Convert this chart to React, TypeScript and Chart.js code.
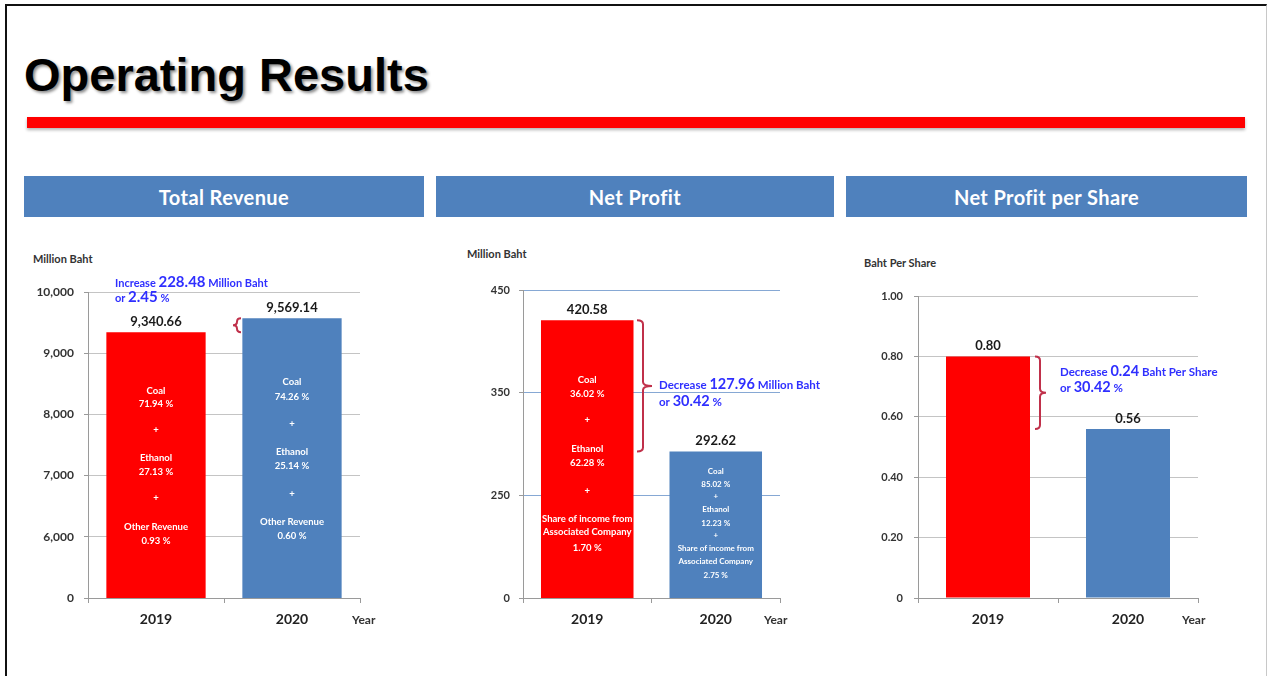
import React, { useEffect, useRef } from "react";
import { Chart, registerables } from "chart.js";

Chart.register(...registerables);

// ---------- DATA ----------
const years = ["2019", "2020"];

const revenueValues = [9340.66, 9569.14];
const revenueValueLabels = ["9,340.66", "9,569.14"];
// broken axis: the lowest tick is shown as "0"
const revenueTickValues = [5000, 6000, 7000, 8000, 9000, 10000];
const revenueTickLabels = ["0", "6,000", "7,000", "8,000", "9,000", "10,000"];
const revenueMix2019 = ["Coal", "71.94 %", "+", "Ethanol", "27.13 %", "+", "Other Revenue", "0.93 %"];
const revenueMix2020 = ["Coal", "74.26 %", "+", "Ethanol", "25.14 %", "+", "Other Revenue", "0.60 %"];
const revenueNote = [
  [["Increase ", 0], ["228.48", 1], [" Million Baht", 0]],
  [["or ", 0], ["2.45", 1], [" %", 0]],
];

const profitValues = [420.58, 292.62];
const profitValueLabels = ["420.58", "292.62"];
const profitTickValues = [150, 250, 350, 450];
const profitTickLabels = ["0", "250", "350", "450"];
const profitMix2019 = ["Coal", "36.02 %", "+", "Ethanol", "62.28 %", "+", "Share of income from", "Associated Company", "1.70 %"];
const profitMix2020 = ["Coal", "85.02 %", "+", "Ethanol", "12.23 %", "+", "Share of income from", "Associated Company", "2.75 %"];
const profitNote = [
  [["Decrease ", 0], ["127.96", 1], [" Million Baht", 0]],
  [["or ", 0], ["30.42", 1], [" %", 0]],
];

const epsValues = [0.8, 0.56];
const epsValueLabels = ["0.80", "0.56"];
const epsTickValues = [0, 0.2, 0.4, 0.6, 0.8, 1.0];
const epsTickLabels = ["0", "0.20", "0.40", "0.60", "0.80", "1.00"];
const epsNote = [
  [["Decrease ", 0], ["0.24", 1], [" Baht Per Share", 0]],
  [["or ", 0], ["30.42", 1], [" %", 0]],
];

const barColors = ["#ff0000", "#4f81bd"];
const FONT = "Lato, 'Open Sans', sans-serif";

// ---------- PLUGIN ----------
function drawBrace(ctx: CanvasRenderingContext2D, x: number, y1: number, y2: number, dir: number, serif: number, tip: number) {
  const mid = (y1 + y2) / 2;
  const r = Math.min(4, (y2 - y1) / 4);
  ctx.beginPath();
  ctx.moveTo(x - dir * serif, y1);
  ctx.quadraticCurveTo(x, y1, x, y1 + r);
  ctx.lineTo(x, mid - r);
  ctx.quadraticCurveTo(x, mid, x + dir * tip, mid);
  ctx.moveTo(x + dir * tip, mid);
  ctx.quadraticCurveTo(x, mid, x, mid + r);
  ctx.lineTo(x, y2 - r);
  ctx.quadraticCurveTo(x, y2, x - dir * serif, y2);
  ctx.stroke();
}

const slidePlugin = {
  id: "slide",
  afterDatasetsDraw(chart: any, _args: any, opts: any) {
    const ctx: CanvasRenderingContext2D = chart.ctx;
    const meta = chart.getDatasetMeta(0);
    const yScale = chart.scales.y;
    const data = chart.data.datasets[0].data as number[];
    const area = chart.chartArea;
    ctx.save();
    meta.data.forEach((bar: any, i: number) => {
      const p = bar.getProps(["x", "y"], true);
      ctx.font = opts.valueFont;
      ctx.fillStyle = "#1a1a1a";
      ctx.textAlign = "center";
      ctx.textBaseline = "bottom";
      ctx.fillText(opts.valueLabels[i], p.x, p.y - 4);
      const inner = opts.inner && opts.inner[i];
      if (inner) {
        ctx.font = inner.font;
        ctx.fillStyle = "#ffffff";
        ctx.textBaseline = "middle";
        inner.lines.forEach((l: string, j: number) => ctx.fillText(l, p.x, inner.ys[j]));
      }
    });
    if (opts.brace) {
      const yTop = yScale.getPixelForValue(Math.max(...data));
      const yBot = yScale.getPixelForValue(Math.min(...data));
      ctx.strokeStyle = "#c0304a";
      ctx.lineWidth = 2;
      drawBrace(ctx, opts.brace.x, yTop, yBot, opts.brace.dir, opts.brace.serif, opts.brace.tip);
    }
    if (opts.note) {
      ctx.fillStyle = "#2f2fff";
      ctx.textAlign = "left";
      ctx.textBaseline = "alphabetic";
      opts.note.lines.forEach((segs: any[], li: number) => {
        let x = opts.note.x;
        segs.forEach(([t, big]: [string, number]) => {
          ctx.font = big ? opts.note.bigFont : opts.note.smallFont;
          ctx.fillText(t, x, opts.note.ys[li]);
          x += ctx.measureText(t).width;
        });
      });
    }
    ctx.font = `bold 12px ${FONT}`;
    ctx.fillStyle = "#333333";
    ctx.textAlign = "left";
    ctx.textBaseline = "middle";
    ctx.fillText("Year", area.right + opts.yearDx, 380);
    ctx.restore();
  },
};

// ---------- CHART CONFIG ----------
function makeConfig(p: any) {
  return {
    type: "bar",
    data: {
      labels: years,
      datasets: [
        {
          data: p.values,
          backgroundColor: barColors,
          borderWidth: 0,
          barPercentage: p.barPct,
          categoryPercentage: 1,
        },
      ],
    },
    options: {
      responsive: false,
      animation: false,
      events: [],
      layout: { padding: { top: p.top, right: p.right, left: 0, bottom: 0 } },
      plugins: {
        legend: { display: false },
        tooltip: { enabled: false },
        title: { display: false },
        slide: p.slide,
      },
      scales: {
        x: {
          offset: true,
          afterFit: (s: any) => {
            s.height = 42;
          },
          grid: {
            offset: true,
            drawOnChartArea: false,
            drawTicks: true,
            tickLength: 5,
            color: "#9a9a9a",
          },
          border: { color: "#9a9a9a", width: 1 },
          ticks: {
            padding: 8,
            color: "#222222",
            font: { family: FONT, size: 14, weight: "bold" },
          },
        },
        y: {
          min: p.min,
          max: p.max,
          afterFit: (s: any) => {
            s.width = p.axisWidth;
          },
          afterBuildTicks: (s: any) => {
            s.ticks = p.tickValues.map((v: number) => ({ value: v }));
          },
          grid: {
            color: p.gridColor,
            tickLength: 4,
            drawTicks: true,
            tickColor: "#9a9a9a",
          },
          border: { color: "#9a9a9a", width: 1 },
          ticks: {
            padding: p.tickPad,
            color: "#333333",
            font: { family: FONT, size: p.tickSize, weight: "bold" },
            callback: (_v: any, i: number) => p.tickLabels[i],
          },
        },
      },
    },
    plugins: [slidePlugin],
  };
}

function SlideChart({ left, top, params }: { left: number; top: number; params: any }) {
  const ref = useRef<HTMLCanvasElement | null>(null);
  useEffect(() => {
    if (!ref.current) return;
    const chart = new Chart(ref.current, makeConfig(params) as any);
    return () => chart.destroy();
  }, []);
  return (
    <div style={{ position: "absolute", left, top, width: 400, height: 400 }}>
      <canvas ref={ref} width={400} height={400} style={{ display: "block" }} />
    </div>
  );
}

const innerFont = `bold 9.5px ${FONT}`;
const innerSmall = `bold 8px ${FONT}`;

const revenueParams = {
  values: revenueValues,
  min: 5000,
  max: 10000,
  tickValues: revenueTickValues,
  tickLabels: revenueTickLabels,
  barPct: 0.73,
  top: 52,
  right: 60,
  axisWidth: 68,
  tickPad: 10,
  tickSize: 12,
  gridColor: "#c4c4c4",
  slide: {
    valueLabels: revenueValueLabels,
    valueFont: `bold 13px ${FONT}`,
    inner: [
      { lines: revenueMix2019, ys: [151, 164, 190, 218, 232, 258, 287, 301], font: innerFont },
      { lines: revenueMix2020, ys: [142, 157, 184, 212, 226, 254, 282, 296], font: innerFont },
    ],
    brace: { x: 217, dir: -1, serif: 4, tip: 4 },
    note: { x: 95, ys: [47, 62], lines: revenueNote, smallFont: `bold 11px ${FONT}`, bigFont: `bold 15px ${FONT}` },
    yearDx: -8,
  },
};

const profitParams = {
  values: profitValues,
  min: 150,
  max: 450,
  tickValues: profitTickValues,
  tickLabels: profitTickLabels,
  barPct: 0.72,
  top: 50,
  right: 70,
  axisWidth: 73,
  tickPad: 9,
  tickSize: 11,
  gridColor: "#86a8d4",
  slide: {
    valueLabels: profitValueLabels,
    valueFont: `bold 13px ${FONT}`,
    inner: [
      { lines: profitMix2019, ys: [140, 154, 180, 209, 223, 251, 279, 292, 308], font: innerFont },
      { lines: profitMix2020, ys: [231, 244, 256, 269, 283, 295, 308, 321, 335], font: innerSmall },
    ],
    brace: { x: 193, dir: 1, serif: 6, tip: 9 },
    note: { x: 209, ys: [149, 166], lines: profitNote, smallFont: `bold 11.5px ${FONT}`, bigFont: `bold 14.5px ${FONT}` },
    yearDx: -16,
  },
};

const epsParams = {
  values: epsValues,
  min: 0,
  max: 1,
  tickValues: epsTickValues,
  tickLabels: epsTickLabels,
  barPct: 0.6,
  top: 56,
  right: 52,
  axisWidth: 68,
  tickPad: 11,
  tickSize: 11,
  gridColor: "#c4c4c4",
  slide: {
    valueLabels: epsValueLabels,
    valueFont: `bold 13px ${FONT}`,
    inner: null,
    brace: { x: 190, dir: 1, serif: 5, tip: 6 },
    note: { x: 210, ys: [136, 152], lines: epsNote, smallFont: `bold 11.5px ${FONT}`, bigFont: `bold 14.5px ${FONT}` },
    yearDx: -16,
  },
};

const boxStyle = (left: number, width: number): React.CSSProperties => ({
  position: "absolute",
  left,
  top: 176,
  width,
  height: 41,
  background: "#4f81bd",
  color: "#ffffff",
  fontFamily: FONT,
  fontWeight: "bold",
  fontSize: 20,
  letterSpacing: 0.4,
  display: "flex",
  alignItems: "center",
  justifyContent: "center",
});

const axisTitle = (left: number, top: number): React.CSSProperties => ({
  position: "absolute",
  left,
  top,
  fontFamily: FONT,
  fontWeight: "bold",
  fontSize: 11,
  color: "#333333",
  lineHeight: "12px",
  whiteSpace: "nowrap",
});

export default function App() {
  return (
    <div
      style={{
        position: "absolute",
        left: 0,
        top: 0,
        width: 1269,
        height: 676,
        background: "#ffffff",
        overflow: "hidden",
      }}
    >
      <div
        style={{
          position: "absolute",
          left: 5,
          top: 4,
          width: 1259,
          height: 700,
          borderTop: "2px solid #111",
          borderLeft: "2px solid #111",
          borderRight: "1px solid #c8c8c8",
        }}
      />
      <div
        style={{
          position: "absolute",
          left: 24,
          top: 51,
          fontFamily: "'Liberation Sans', Arial, sans-serif",
          fontWeight: "bold",
          fontSize: 47,
          lineHeight: "47px",
          color: "#000",
          textShadow: "2px 2px 3px rgba(0,0,0,0.45)",
          whiteSpace: "nowrap",
        }}
      >
        Operating Results
      </div>
      <div
        style={{
          position: "absolute",
          left: 27,
          top: 117,
          width: 1218,
          height: 11,
          background: "#ff0000",
          boxShadow: "0 2px 3px rgba(0,0,0,0.3)",
        }}
      />
      <div style={boxStyle(24, 400)}>Total Revenue</div>
      <div style={boxStyle(436, 398)}>Net Profit</div>
      <div style={boxStyle(846, 401)}>Net Profit per Share</div>

      <div style={axisTitle(33, 253)}>Million Baht</div>
      <div style={axisTitle(467, 248)}>Million Baht</div>
      <div style={axisTitle(864, 257)}>Baht Per Share</div>

      <SlideChart left={20} top={240} params={revenueParams} />
      <SlideChart left={450} top={240} params={profitParams} />
      <SlideChart left={850} top={240} params={epsParams} />
    </div>
  );
}
